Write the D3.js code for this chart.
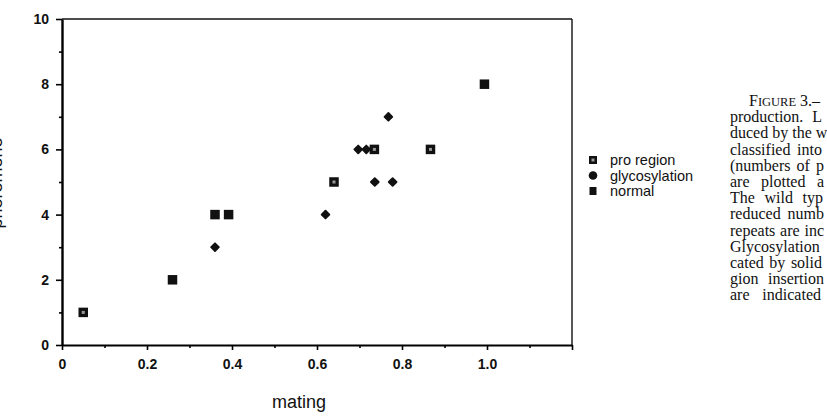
<!DOCTYPE html>
<html>
<head>
<meta charset="utf-8">
<script src="https://cdn.jsdelivr.net/npm/d3@7"></script>
<style>
  html, body { margin: 0; padding: 0; background: #fff; overflow: hidden; }
  svg { display: block; }
  .tick text { font-family: "Liberation Sans", Arial, sans-serif; font-weight: bold; font-size: 14px; fill: #111; }
  .caption { font-family: "Liberation Serif", "Times New Roman", serif; font-size: 16px; fill: #111; }
</style>
</head>
<body>
<svg id="chart" width="827" height="416"></svg>
<script>
// data
const proX = [0.05, 0.64, 0.735, 0.867]
const proY = [1, 5, 6, 6]
const glycX = [0.36, 0.62, 0.697, 0.716, 0.736, 0.778, 0.768]
const glycY = [3, 4, 6, 6, 5, 5, 7]
const normX = [0.26, 0.36, 0.392, 0.994]
const normY = [2, 4, 4, 8]

const xMajor = [0, 0.2, 0.4, 0.6, 0.8, 1.0, 1.2]
const xMinor = [0.1, 0.3, 0.5, 0.7, 0.9, 1.1]
const xLabels = ['0', '0.2', '0.4', '0.6', '0.8', '1.0', '']
const yMajor = [0, 2, 4, 6, 8, 10]
const yMinor = [1, 3, 5, 7, 9]

const legendNames = ['pro region', 'glycosylation', 'normal']

// caption lines as far as they show before the page edge
const captionLines = [
    '3.\u2013',
    'production. L',
    'duced by the w',
    'classified into',
    '(numbers of p',
    'are plotted a',
    'The wild typ',
    'reduced numb',
    'repeats are inc',
    'Glycosylation',
    'cated by solid',
    'gion insertion',
    'are indicated'
]
// right edge each justified line reaches
const captionEnds = [0, 822, 824, 822, 824, 824, 823, 824, 824, 0, 822, 824, 821]

const svg = d3.select('#chart')

const margin = {top: 19, right: 255, bottom: 71, left: 62}
const width = 827 - margin.left - margin.right
const height = 416 - margin.top - margin.bottom

const x = d3.scaleLinear().domain([0, 1.2]).range([margin.left, margin.left + width])
const y = d3.scaleLinear().domain([0, 10]).range([margin.top + height, margin.top])

// frame top + right (thinner)
svg.append('line')
    .attr('x1', x(0)).attr('x2', x(1.2))
    .attr('y1', y(10)).attr('y2', y(10))
    .attr('stroke', '#111').attr('stroke-width', 1.6)
svg.append('line')
    .attr('x1', x(1.2)).attr('x2', x(1.2))
    .attr('y1', y(10)).attr('y2', y(0))
    .attr('stroke', '#111').attr('stroke-width', 1.4)

// bottom axis
const xAxis = svg.append('g')
    .attr('transform', 'translate(0,' + y(0) + ')')
    .call(d3.axisBottom(x).tickValues(xMajor).tickSize(5).tickSizeOuter(0)
        .tickFormat((d, i) => xLabels[i]))
xAxis.select('.domain').attr('stroke-width', 2.2)
xAxis.selectAll('.tick line').attr('stroke-width', 1.6)
xAxis.selectAll('.tick text').attr('dy', '1.15em')

const xAxisMinor = svg.append('g')
    .attr('transform', 'translate(0,' + y(0) + ')')
    .call(d3.axisBottom(x).tickValues(xMinor).tickSize(3).tickFormat(''))
xAxisMinor.select('.domain').remove()
xAxisMinor.selectAll('.tick line').attr('stroke-width', 1.6)

// left axis
const yAxis = svg.append('g')
    .attr('transform', 'translate(' + x(0) + ',0)')
    .call(d3.axisLeft(y).tickValues(yMajor).tickSize(6).tickSizeOuter(0))
yAxis.select('.domain').attr('stroke-width', 2.4)
yAxis.selectAll('.tick line').attr('stroke-width', 1.6)
yAxis.selectAll('.tick text').attr('x', -13)

const yAxisMinor = svg.append('g')
    .attr('transform', 'translate(' + x(0) + ',0)')
    .call(d3.axisLeft(y).tickValues(yMinor).tickSize(3).tickFormat(''))
yAxisMinor.select('.domain').remove()
yAxisMinor.selectAll('.tick line').attr('stroke-width', 1.6)

// axis titles
svg.append('text')
    .attr('x', 299)
    .attr('y', 408)
    .attr('text-anchor', 'middle')
    .style('font-family', '"Liberation Sans", Arial, sans-serif')
    .style('font-size', '18px')
    .style('fill', '#111')
    .text('mating')

// y title sits mostly past the left edge, as in the scan
svg.append('text')
    .attr('transform', 'translate(2,' + (y(5) + 1) + ') rotate(-90)')
    .attr('text-anchor', 'middle')
    .style('font-family', '"Liberation Sans", Arial, sans-serif')
    .style('font-size', '18px')
    .style('fill', '#111')
    .text('pheromone')

// markers
const sq = 9.5
function drawPro(g, cx, cy, s) {
    s = s || sq
    g.append('rect')
        .attr('x', cx - s / 2).attr('y', cy - s / 2)
        .attr('width', s).attr('height', s)
        .attr('fill', '#111')
    g.append('rect')
        .attr('x', cx - 1.5).attr('y', cy - 1.5)
        .attr('width', 3).attr('height', 3)
        .attr('fill', '#9a9a9a')
}
function drawNorm(g, cx, cy) {
    g.append('rect')
        .attr('x', cx - sq / 2).attr('y', cy - sq / 2)
        .attr('width', sq).attr('height', sq)
        .attr('fill', '#111')
}
const diamond = d3.symbol().type(d3.symbolSquare).size(30)
function drawGlyc(g, cx, cy) {
    g.append('path')
        .attr('d', diamond())
        .attr('transform', 'translate(' + cx + ',' + cy + ') rotate(45)')
        .attr('fill', '#111')
        .attr('stroke', '#111')
        .attr('stroke-width', 1.8)
        .attr('stroke-linejoin', 'round')
}

const points = svg.append('g')
normX.forEach((d, i) => drawNorm(points, x(d), y(normY[i])))
glycX.forEach((d, i) => drawGlyc(points, x(d), y(glycY[i])))
proX.forEach((d, i) => drawPro(points, x(d), y(proY[i])))

// legend
const legend = svg.append('g').attr('transform', 'translate(593,160)')
legendNames.forEach((name, i) => {
    const row = legend.append('g').attr('transform', 'translate(0,' + (i * 15.5) + ')')
    if (i === 0) {
        drawPro(row, 0, 0, 8)
    } else if (i === 1) {
        row.append('circle').attr('r', 4.3).attr('fill', '#111')
    } else {
        row.append('rect').attr('x', -3.5).attr('y', -4).attr('width', 7).attr('height', 8).attr('fill', '#111')
    }
    row.append('text')
        .attr('x', 17)
        .attr('dy', '0.35em')
        .style('font-family', '"Liberation Sans", Arial, sans-serif')
        .style('font-size', '14.5px')
        .style('fill', '#111')
        .text(name)
})

// caption (justified lines, cut by the page edge in the scan)
const caption = svg.append('g')
captionLines.forEach((line, i) => {
    const t = caption.append('text')
        .attr('class', 'caption')
        .attr('x', i === 0 ? 749 : 730)
        .attr('y', 106 + i * 16.2)
    if (i === 0) {
        t.append('tspan').text('F')
        t.append('tspan').style('font-size', '12.5px').text('IGURE')
        t.append('tspan').text(' ' + line)
        return
    }
    t.text(line)
    const spaces = (line.match(/ /g) || []).length
    if (captionEnds[i] && spaces) {
        const natural = t.node().getComputedTextLength()
        const extra = (captionEnds[i] - 730 - natural) / spaces
        if (extra > 0) t.style('word-spacing', extra + 'px')
    }
})
</script>
</body>
</html>
